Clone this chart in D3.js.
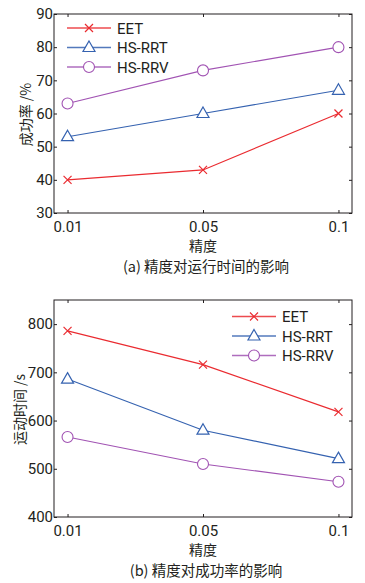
<!DOCTYPE html>
<html>
<head>
<meta charset="utf-8">
<script src="https://cdn.jsdelivr.net/npm/d3@7"></script>
<style>
  body { margin: 0; background: #fff; }
  svg text { font-family: Roboto, "Noto Sans CJK SC", sans-serif; fill: #231f20; }
  svg text.cjk { font-family: "Noto Sans CJK SC", "Noto Sans", sans-serif; }
</style>
</head>
<body>
<svg id="chart" width="365" height="583"></svg>
<script>
/* ---------- data ---------- */
const categories = ["0.01", "0.05", "0.1"];
const seriesNames = ["EET", "HS-RRT", "HS-RRV"];
const seriesColors = ["#ea2b30", "#3562b0", "#a153b3"];
const seriesMarkers = ["x", "triangle", "circle"];

const successEET = [40, 43, 60];
const successRRT = [53, 60, 67];
const successRRV = [63, 73, 80];
const successTicks = [30, 40, 50, 60, 70, 80, 90];

const timeEET = [786, 716, 618];
const timeRRT = [686, 580, 521];
const timeRRV = [566, 510, 473];
const timeTicks = [400, 500, 600, 700, 800];

const svg = d3.select("#chart");

/* ---------- helpers ---------- */
function drawMarker(sel, type, color) {
  if (type === "x") {
    sel.append("path").attr("d", "M-4,-4L4,4M-4,4L4,-4")
      .attr("stroke", color).attr("stroke-width", 1.2).attr("fill", "none");
  } else if (type === "triangle") {
    sel.append("path").attr("d", "M0,-6.5L6,4L-6,4Z")
      .attr("stroke", color).attr("stroke-width", 1.2).attr("fill", "#fff");
  } else {
    sel.append("circle").attr("r", 5.5)
      .attr("stroke", color).attr("stroke-width", 1.1).attr("fill", "#fff");
  }
}

function panel(opts) {
  const { top, bottom, left, right, yDomain, yTicks, series, yLabel, yLabelX, caption, legendX, legendY } = opts;
  const g = svg.append("g");
  const x = d3.scaleLinear().domain([0.9, 3.1]).range([left, right]);
  const y = d3.scaleLinear().domain(yDomain).range([bottom, top]);

  // frame
  g.append("rect").attr("x", left).attr("y", top)
    .attr("width", right - left).attr("height", bottom - top)
    .attr("fill", "none").attr("stroke", "#231f20").attr("stroke-width", 1);

  // axes with inward ticks
  const tickFmt = (d) => categories[d - 1];
  g.append("g").attr("transform", `translate(0,${bottom})`)
    .call(d3.axisBottom(x).tickValues([1, 2, 3]).tickFormat(tickFmt).tickSize(-3).tickPadding(8).tickSizeOuter(0))
    .call(a => a.select(".domain").remove());
  g.append("g").attr("transform", `translate(0,${top})`)
    .call(d3.axisTop(x).tickValues([1, 2, 3]).tickFormat("").tickSize(-3).tickSizeOuter(0))
    .call(a => a.select(".domain").remove());
  g.append("g").attr("transform", `translate(${left},0)`)
    .call(d3.axisLeft(y).tickValues(yTicks).tickSize(-3).tickPadding(1).tickSizeOuter(0))
    .call(a => a.select(".domain").remove());
  g.append("g").attr("transform", `translate(${right},0)`)
    .call(d3.axisRight(y).tickValues(yTicks).tickFormat("").tickSize(-3).tickSizeOuter(0))
    .call(a => a.select(".domain").remove());
  g.selectAll(".tick line").attr("stroke", "#231f20");
  g.selectAll(".tick text").style("font-size", "15px").style("font-family", "Roboto, sans-serif").attr("fill", "#231f20");

  // series
  series.forEach((vals, i) => {
    const line = d3.line().x((d, j) => x(j + 1)).y(d => y(d));
    g.append("path").datum(vals).attr("d", line)
      .attr("fill", "none").attr("stroke", seriesColors[i]).attr("stroke-width", 1.1);
    vals.forEach((v, j) => {
      drawMarker(g.append("g").attr("transform", `translate(${x(j + 1)},${y(v)})`), seriesMarkers[i], seriesColors[i]);
    });
  });

  // legend
  seriesNames.forEach((name, i) => {
    const ly = legendY + i * 19.5;
    g.append("line").attr("x1", legendX).attr("x2", legendX + 44).attr("y1", ly).attr("y2", ly)
      .attr("stroke", seriesColors[i]).attr("stroke-width", 1.4).attr("stroke-opacity", 0.85);
    drawMarker(g.append("g").attr("transform", `translate(${legendX + 22},${ly})`), seriesMarkers[i], seriesColors[i]);
    g.append("text").attr("x", legendX + 50).attr("y", ly + 5.5).style("font-size", "15px").text(name);
  });

  // labels
  g.append("text").attr("class", "cjk").attr("x", 203).attr("y", bottom + 38)
    .attr("text-anchor", "middle").style("font-size", "14px").attr("fill", "#4a4444").text("精度");
  g.append("text").attr("class", "cjk").attr("x", 206).attr("y", bottom + 59)
    .attr("text-anchor", "middle").style("font-size", "14.5px").text(caption);
  g.append("text").attr("class", "cjk")
    .attr("transform", `translate(${yLabelX},${(top + bottom) / 2 + 1}) rotate(-90)`)
    .attr("text-anchor", "middle").style("font-size", "14px").attr("fill", "#4a4444").text(yLabel);
}

panel({
  top: 14, bottom: 213, left: 54, right: 352,
  yDomain: [30, 90], yTicks: successTicks,
  series: [successEET, successRRT, successRRV],
  yLabel: "成功率 /%", yLabelX: 31, caption: "(a) 精度对运行时间的影响",
  legendX: 67, legendY: 28
});

panel({
  top: 300, bottom: 517, left: 54, right: 352,
  yDomain: [400, 850], yTicks: timeTicks,
  series: [timeEET, timeRRT, timeRRV],
  yLabel: "运动时间 /s", yLabelX: 25, caption: "(b) 精度对成功率的影响",
  legendX: 232, legendY: 316.5
});
</script>
</body>
</html>
